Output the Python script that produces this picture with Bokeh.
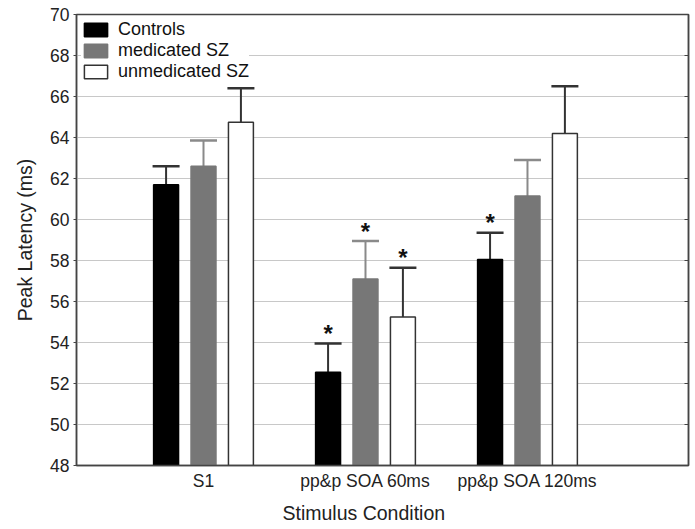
from bokeh.plotting import figure
from bokeh.models import (Range1d, FixedTicker, LinearAxis, Whisker, TeeHead,
                          ColumnDataSource, Legend, LegendItem, Title)
from bokeh.embed import file_html
from bokeh.resources import INLINE
from bokeh.core.properties import value

# ---- data ----
categories = ["S1", "pp&p SOA 60ms", "pp&p SOA 120ms"]
series_names = ["Controls", "medicated SZ", "unmedicated SZ"]
controls = [61.7, 52.55, 58.05]
controls_err = [0.9, 1.4, 1.3]
medicated = [62.6, 57.1, 61.15]
medicated_err = [1.25, 1.85, 1.75]
unmedicated = [64.75, 55.25, 64.2]
unmedicated_err = [1.65, 2.4, 2.3]
controls_sig = [False, True, True]
medicated_sig = [False, True, False]
unmedicated_sig = [False, True, False]
y_ticks = [48, 50, 52, 54, 56, 58, 60, 62, 64, 66, 68, 70]

FONT = "Liberation Sans"

p = figure(width=695, height=529, output_backend="svg", toolbar_location=None,
           x_range=Range1d(-0.784, 2.994), y_range=Range1d(48, 70),
           min_border_left=76, min_border_right=7, min_border_top=14,
           min_border_bottom=63)
p.background_fill_color = "white"
p.border_fill_color = "white"
p.outline_line_color = "#444444"
p.outline_line_width = 1.5

series = [
    (controls, controls_err, controls_sig, "black", "black", "#333333"),
    (medicated, medicated_err, medicated_sig, "#777777", "#777777", "#8a8a8a"),
    (unmedicated, unmedicated_err, unmedicated_sig, "white", "#333333", "#333333"),
]
offsets = [-0.231, 0.0, 0.231]
legend_items = []
for (vals, errs, sig, fill, outline, ecol), off, name in zip(series, offsets, series_names):
    xs = [i + off for i in range(len(categories))]
    src = ColumnDataSource(dict(x=xs, top=vals, upper=[v + e for v, e in zip(vals, errs)]))
    r = p.vbar(x="x", top="top", bottom=48, width=0.154, source=src,
               fill_color=fill, line_color=outline, line_width=1.5)
    legend_items.append(LegendItem(label=name, renderers=[r]))
    w = Whisker(base="x", upper="upper", lower="top", source=src, dimension="height",
                line_color=ecol, line_width=2,
                upper_head=TeeHead(size=27, line_color=ecol, line_width=2.5),
                lower_head=None)
    p.add_layout(w)
    sx = [x for x, s in zip(xs, sig) if s]
    sy = [v + e for v, e, s in zip(vals, errs, sig) if s]
    p.text(x=sx, y=sy, text=["*"] * len(sx), text_align="center",
           text_baseline="middle", y_offset=-10, text_font=value(FONT),
           text_font_size="24px", text_font_style="bold", text_color="#111111")

legend = Legend(items=legend_items, location="top_left", margin=5, padding=4,
                border_line_color=None, background_fill_color="white",
                background_fill_alpha=1.0, glyph_width=29, glyph_height=17,
                label_height=17, spacing=0, label_standoff=8,
                label_text_font=FONT, label_text_font_size="18px",
                label_text_color="#111111")
p.add_layout(legend)

# y axis
p.yaxis.ticker = FixedTicker(ticks=y_ticks)
p.yaxis.axis_label = "Peak Latency (ms)"
p.yaxis.axis_label_text_font = FONT
p.yaxis.axis_label_text_font_size = "19.5px"
p.yaxis.axis_label_text_font_style = "normal"
p.yaxis.axis_label_text_color = "#222222"
p.yaxis.axis_label_standoff = 11
p.yaxis.major_label_text_font = FONT
p.yaxis.major_label_text_font_size = "17.5px"
p.yaxis.major_label_text_color = "#222222"
p.yaxis.major_label_standoff = 4
p.yaxis.major_tick_out = 3
p.yaxis.major_tick_in = 0
p.yaxis.minor_tick_line_color = None
p.yaxis.axis_line_color = "#444444"
p.yaxis.axis_line_width = 1.5
p.yaxis.major_tick_line_color = "#444444"

# right axis with inward ticks
raxis = LinearAxis(ticker=FixedTicker(ticks=y_ticks), major_label_text_font_size="0px",
                   major_tick_in=4, major_tick_out=0, minor_tick_line_color=None,
                   axis_line_color="#444444", axis_line_width=1.5,
                   major_tick_line_color="#444444")
raxis.major_label_text_color = None
p.add_layout(raxis, "right")

# x axis
p.xaxis.ticker = FixedTicker(ticks=list(range(len(categories))))
p.xaxis.major_label_overrides = {i: c for i, c in enumerate(categories)}
p.xaxis.major_label_text_font = FONT
p.xaxis.major_label_text_font_size = "17.5px"
p.xaxis.major_label_text_color = "#222222"
p.xaxis.major_label_standoff = 5
p.xaxis.major_tick_out = 0
p.xaxis.major_tick_in = 0
p.xaxis.major_tick_line_color = None
p.xaxis.minor_tick_line_color = None
p.xaxis.axis_line_color = "#444444"
p.xaxis.axis_line_width = 1.5

p.add_layout(Title(text="Stimulus Condition", align="left", offset=206,
                   text_font=FONT, text_font_size="19.5px", text_font_style="normal",
                   text_color="#222222", standoff=12), "below")

p.xgrid.grid_line_color = None
p.ygrid.ticker = FixedTicker(ticks=y_ticks[1:-1])
p.ygrid.grid_line_color = "#c8c8c8"
p.ygrid.grid_line_width = 1

open("out.html", "w").write(file_html(p, INLINE))
